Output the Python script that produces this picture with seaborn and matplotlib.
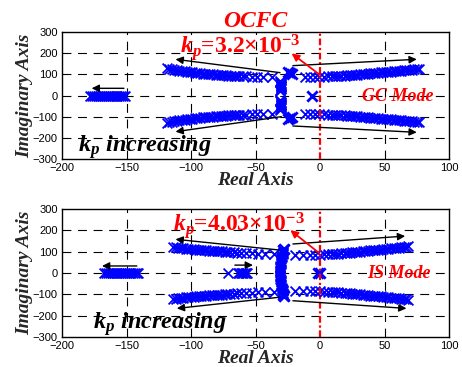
import matplotlib
matplotlib.use("Agg")
import matplotlib.pyplot as plt
import seaborn as sns

# ---------------- data ----------------
x_ticks = [-200, -150, -100, -50, 0, 50, 100]
y_ticks = [-300, -200, -100, 0, 100, 200, 300]

# ---- top panel (GC mode) ----
T_real_x = [-178, -176.5, -175, -173.5, -172, -170.5, -169, -167.5, -166, -164.5,
            -163, -161.5, -160, -158.5, -157, -155.5, -154, -152.5, -151]
T_real_y = [0, 0, 0, 0, 0, 0, 0, 0, 0, 0, 0, 0, 0, 0, 0, 0, 0, 0, 0]

T_ul_x = [-37.5, -44, -49, -53, -57, -60, -62.5, -65, -67, -69, -71, -73, -75, -77, -79,
          -81, -83, -85, -87, -89, -91, -93, -95, -97, -99, -101, -103, -105, -107, -109,
          -111, -113, -115, -117, -118.5]
T_ul_y = [88, 88.5, 89, 89.5, 90, 90.5, 91, 92, 93, 93.5, 94, 95, 96, 96.5, 97.5,
          98.5, 99.5, 100.5, 101.5, 102.5, 103.5, 105, 106, 107.5, 109, 110.5, 112, 114, 116, 118,
          120, 122, 124, 126, 128]
T_ll_x = T_ul_x
T_ll_y = [-88, -88.5, -89, -89.5, -90, -90.5, -91, -92, -93, -93.5, -94, -95, -96, -96.5, -97.5,
          -98.5, -99.5, -100.5, -101.5, -102.5, -103.5, -105, -106, -107.5, -109, -110.5, -112, -114, -116, -118,
          -120, -122, -124, -126, -128]

T_ur_x = [-11.5, -7.5, -4, -0.5, 3, 6, 9, 11.5, 14, 16.5, 19, 21, 23, 25, 27, 29, 31, 33, 35, 37,
          39, 41, 43, 45, 47, 49, 51, 53, 55, 57, 59, 61, 63, 65, 67, 69, 71, 73, 75, 76.5]
T_ur_y = [89, 89, 89, 89, 89.5, 90, 90.5, 91, 92, 93, 94, 95, 96, 97, 98, 99, 100.5, 101.5, 102.5, 103.5,
          104.5, 105.5, 106.5, 108, 109, 110, 111, 112, 113, 114.5, 115.5, 116.5, 118, 119, 120, 121.5,
          122.5, 123.5, 125, 126]
T_lr_x = T_ur_x
T_lr_y = [-89, -89, -89, -89, -89.5, -90, -90.5, -91, -92, -93, -94, -95, -96, -97, -98, -99, -100.5, -101.5,
          -102.5, -103.5, -104.5, -105.5, -106.5, -108, -109, -110, -111, -112, -113, -114.5, -115.5, -116.5,
          -118, -119, -120, -121.5, -122.5, -123.5, -125, -126]

T_vc_x = [-31, -31, -30.5, -30.5, -30.5, -30, -30, -30, -30.5, -30.5, -31, -31,
          -31, -31, -30.5, -30.5, -30.5, -30, -30, -30, -30.5, -30.5, -31, -31]
T_vc_y = [67, 63, 59, 55, 51, 47, 43, 39, 35, 31, 27, 23,
          -23, -27, -31, -35, -39, -43, -47, -51, -55, -59, -63, -67]

T_bold_x = [-25, -23, -21.5, -25, -23, -21.5, -6.5]
T_bold_y = [109, 105, 101, -109, -105, -101, 0]

# ---- bottom panel (IS mode) ----
B_real_x = [-167.5, -166, -164.5, -163, -161.5, -160, -158.5, -157, -155.5, -154, -152.5,
            -151, -149.5, -148, -146.5, -145, -143.5, -142, -141]
B_real_y = [0, 0, 0, 0, 0, 0, 0, 0, 0, 0, 0, 0, 0, 0, 0, 0, 0, 0, 0]

B_small_x = [-71, -63.5, -62.5, -61.5, -60.5, -59.5, -58.5, -57.5, -56.5]
B_small_y = [0, 0, 0, 0, 0, 0, 0, 0, 0]

B_vc_x = [-28, -28.5, -28.5, -29, -29, -29.5, -29.5, -30, -30, -30, -30.5, -30.5, -30.5, -31, -31,
          -31, -31, -31, -31, -31, -31, -31, -31, -31, -30.5, -30.5, -30.5, -30, -30, -30, -29.5,
          -29.5, -29, -29, -28.5, -28.5, -28, -28]
B_vc_y = [112, 106, 100, 94, 88, 82, 76, 70, 64, 58, 52, 46, 40, 34, 28, 22, 16, 10, 4, -2, -8,
          -14, -20, -26, -32, -38, -44, -50, -56, -62, -68, -74, -80, -86, -92, -98, -104, -110]

B_ul_x = [-36, -42.5, -48, -53, -57.5, -61, -64, -67, -69.5, -72, -74, -76, -78, -80, -82, -84,
          -86, -88, -90, -92, -94, -96, -98, -100, -102, -104, -106, -108, -110, -112, -114]
B_ul_y = [88, 89, 90, 91.5, 93, 94, 95, 96.5, 98, 99, 100, 101, 102, 103, 103.5, 104, 105, 106,
          107, 108, 109, 110, 111, 112, 113, 114, 115.5, 117, 118.5, 120, 122]
B_ll_x = B_ul_x
B_ll_y = [-88, -89, -90, -91.5, -93, -94, -95, -96.5, -98, -99, -100, -101, -102, -103, -103.5, -104,
          -105, -106, -107, -108, -109, -110, -111, -112, -113, -114, -115.5, -117, -118.5, -120, -122]

B_ur_x = [-19.5, -13, -8, -4, 0, 3, 6, 9, 11.5, 14, 16.5, 19, 21, 23, 25, 27, 29, 31, 33, 35, 37,
          39, 41, 43, 45, 47, 49, 51, 53, 55, 57, 59, 61, 63, 65, 67, 68.5]
B_ur_y = [85, 85, 85, 86, 86, 87, 88, 89, 90, 91, 92, 93, 94, 95.5, 97, 98, 99, 100.5, 101.5, 103,
          104, 105.5, 106.5, 108, 109, 110, 111, 112.5, 113.5, 115, 116.5, 118, 119.5, 121, 122, 123.5, 125]
B_lr_x = B_ur_x
B_lr_y = [-85, -85, -85, -86, -86, -87, -88, -89, -90, -91, -92, -93, -94, -95.5, -97, -98, -99, -100.5,
          -101.5, -103, -104, -105.5, -106.5, -108, -109, -110, -111, -112.5, -113.5, -115, -116.5, -118,
          -119.5, -121, -122, -123.5, -125]

B_bold_x = [-28, -28.5, -28, -28.5, -1.5, 0]
B_bold_y = [112, 106, -110, -104, 0, 0]

# annotation arrows: (tail, head)
T_arrows = [((-31, 108), (-112, 171)), ((-21, 141), (75, 171)),
            ((-30, -100), (-112, -171)), ((-21, -144), (75, -174)),
            ((-152, 34), (-177, 34))]
T_red_arrow = ((0, 97), (-22, 199))
B_arrows = [((-32, 108), (-112, 158)), ((-21, 136), (66, 173)),
            ((-32, -114), (-111, -166)), ((-21, -130), (67, -166)),
            ((-142, 33), (-169, 33)), ((-66, 37), (-52, 37))]
B_red_arrow = ((-1, 95), (-23, 201))

# ---------------- style ----------------
sns.set_style("white")
plt.rcParams["font.family"] = ["Liberation Sans", "DejaVu Sans"]
plt.rcParams["mathtext.fontset"] = "custom"
plt.rcParams["mathtext.rm"] = "Liberation Serif"
plt.rcParams["mathtext.it"] = "Liberation Serif:italic"
plt.rcParams["mathtext.bf"] = "Liberation Serif:bold"
plt.rcParams["mathtext.bfit"] = "Liberation Serif:italic:bold"

BLUE = "#0000ff"
SERIF = "Liberation Serif"

fig = plt.figure(figsize=(4.62, 3.67), dpi=100)
ax1 = fig.add_axes([62 / 462, 1 - 159 / 367, 387 / 462, 127 / 367])
ax2 = fig.add_axes([62 / 462, 1 - 337 / 367, 387 / 462, 128 / 367])


def base(ax):
    ax.set_xlim(-200, 100)
    ax.set_ylim(-300, 300)
    ax.set_xticks(x_ticks)
    ax.set_yticks(y_ticks)
    ax.tick_params(direction="in", length=2, labelsize=8, pad=3, colors="black")
    for s in ax.spines.values():
        s.set_color("black")
        s.set_linewidth(1.0)
    for gx in x_ticks[1:-1]:
        if gx != 0:
            ax.axvline(gx, color="black", lw=0.8, ls=(0, (8, 6)), zorder=0)
    for gy in y_ticks[1:-1]:
        ax.axhline(gy, color="black", lw=0.8, ls=(0, (8, 6)), zorder=0)
    ax.axvline(0, color="red", lw=1.6, ls=(0, (3, 1.2, 1, 1.2)), zorder=5)
    ax.set_xlabel("Real Axis", family=SERIF, weight="bold", style="italic", fontsize=14)
    ax.set_ylabel("Imaginary Axis", family=SERIF, weight="bold", style="italic", fontsize=14)
    ax.xaxis.set_label_coords(0.5, -0.1)
    ax.yaxis.set_label_coords(-0.075, 0.5)


def pts(ax, xs, ys, lw=1.3, s=50):
    sns.scatterplot(x=xs, y=ys, ax=ax, marker="x", color=BLUE, s=s, linewidth=lw,
                    legend=False, zorder=3)


def arrows(ax, lst, color="black", lw=1.0):
    for (t, h) in lst:
        ax.annotate("", xy=h, xytext=t,
                    arrowprops=dict(arrowstyle="-|>", color=color, lw=lw,
                                    mutation_scale=11, shrinkA=0, shrinkB=0),
                    zorder=6, annotation_clip=False)


KP_TOP = r"$\mathbfit{k}_{\mathbfit{p}}$=3.2×10$^{\mathbf{-3}}$"
KP_BOT = r"$\mathbfit{k}_{\mathbfit{p}}$=4.03×10$^{\mathbf{-3}}$"
KP_INC = r"$\mathbfit{k}_{\mathbfit{p}}$ increasing"

# ---- top ----
base(ax1)
for xs, ys in [(T_real_x, T_real_y), (T_ul_x, T_ul_y), (T_ll_x, T_ll_y),
               (T_ur_x, T_ur_y), (T_lr_x, T_lr_y), (T_vc_x, T_vc_y)]:
    pts(ax1, xs, ys)
pts(ax1, T_bold_x, T_bold_y, lw=2.0, s=55)
arrows(ax1, T_arrows)
arrows(ax1, [T_red_arrow], color="red", lw=1.3)
ax1.text(-108.5, 199, KP_TOP, family=SERIF, weight="bold", color="red", fontsize=17,
         ha="left", va="baseline", zorder=7)
fig.text(255 / 462, 1 - 27 / 367, "OCFC", family=SERIF, weight="bold", style="italic",
         color="red", fontsize=17, ha="center", va="baseline")
ax1.text(32.6, -26, "GC Mode", family=SERIF, weight="bold", style="italic",
         color="red", fontsize=13, ha="left", va="baseline", zorder=7)
ax1.text(-187.6, -265, KP_INC, family=SERIF, weight="bold", style="italic", color="black",
         fontsize=17.5, ha="left", va="baseline", zorder=7)

# ---- bottom ----
base(ax2)
for xs, ys in [(B_real_x, B_real_y), (B_small_x, B_small_y), (B_ul_x, B_ul_y),
               (B_ll_x, B_ll_y), (B_ur_x, B_ur_y), (B_lr_x, B_lr_y), (B_vc_x, B_vc_y)]:
    pts(ax2, xs, ys)
pts(ax2, B_bold_x, B_bold_y, lw=2.0, s=55)
arrows(ax2, B_arrows)
arrows(ax2, [B_red_arrow], color="red", lw=1.3)
ax2.text(-114, 193.6, KP_BOT, family=SERIF, weight="bold", color="red", fontsize=17,
         ha="left", va="baseline", zorder=7)
ax2.text(36.4, -22, "IS Mode", family=SERIF, weight="bold", style="italic",
         color="red", fontsize=13, ha="left", va="baseline", zorder=7)
ax2.text(-176, -259, KP_INC, family=SERIF, weight="bold", style="italic", color="black",
         fontsize=17.5, ha="left", va="baseline", zorder=7)

fig.savefig("out.png", dpi=100)
